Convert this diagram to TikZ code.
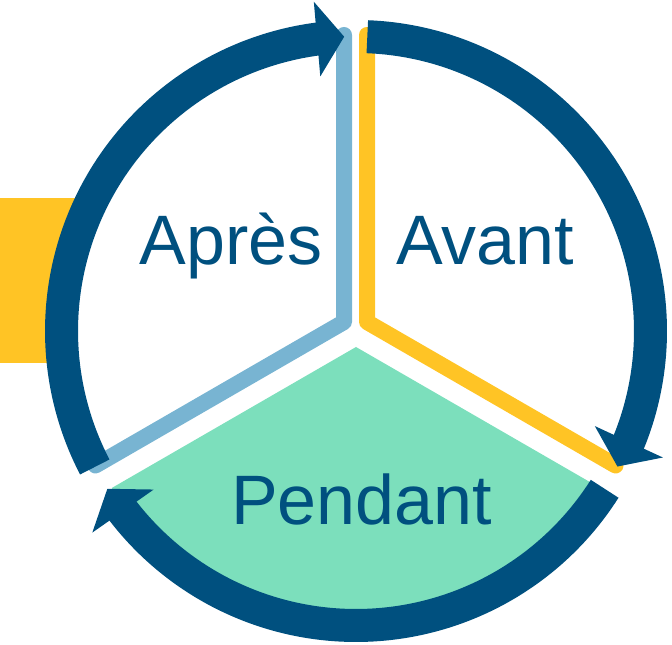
\documentclass[tikz,border=0pt]{standalone}
\usepackage{fontspec}
\setmainfont{Liberation Sans}
\usetikzlibrary{calc}
\definecolor{ringblue}{HTML}{00507F}
\definecolor{lightblue}{HTML}{78B4D2}
\definecolor{gold}{HTML}{FFC425}
\definecolor{mint}{HTML}{7CDFBC}
\begin{document}
\begin{tikzpicture}[x=1pt,y=1pt,
  ringarc/.style={line width=33pt, draw=ringblue, line cap=butt},
  sectorline/.style={line width=16pt, line cap=round, line join=round},
  phase/.style={font=\fontsize{70}{84}\selectfont, text=ringblue, anchor=base, inner sep=0pt}]
\useasboundingbox (0,0) rectangle (672,645);
% side bar
\fill[gold] (0,282) rectangle (76,447);
% Pendant sector
\fill[mint] (356,298) -- +(210:282) arc[start angle=210, end angle=330, radius=282] -- cycle;
% Apres and Avant sector edges
\draw[sectorline, lightblue] (344,323) ++(90:287) -- (344,323) -- ++(210:287);
\draw[sectorline, gold] (367,323) ++(90:287) -- (367,323) -- ++(-30:287);
% cycle arrows
\begin{scope}[shift={(356,314)}]
\foreach \t [count=\i] in {207.5, 87.8, -32.4} {
  \pgfmathsetmacro\b{\t-115.2}
  \pgfmathsetmacro\m{\b+5.3}
  \pgfmathsetmacro\e{\m-0.6}
  \draw[ringarc] (\t:294.5) arc[start angle=\t, end angle=\e, radius=294.5];
  \coordinate (tip\i) at (\b:294.5);
  \coordinate (mid\i) at (\m:294.5);
  \fill[ringblue] (tip\i) -- ($(mid\i)!37.5pt!90:(tip\i)$) -- ($(mid\i)!37.5pt!-90:(tip\i)$) -- cycle;
}
\end{scope}
% labels
\node[phase] (apres) at (231,380) {Après};
\node[phase] (avant) at (485,380) {Avant};
\node[phase] (pendant) at (361.5,120) {Pendant};
\end{tikzpicture}
\end{document}
